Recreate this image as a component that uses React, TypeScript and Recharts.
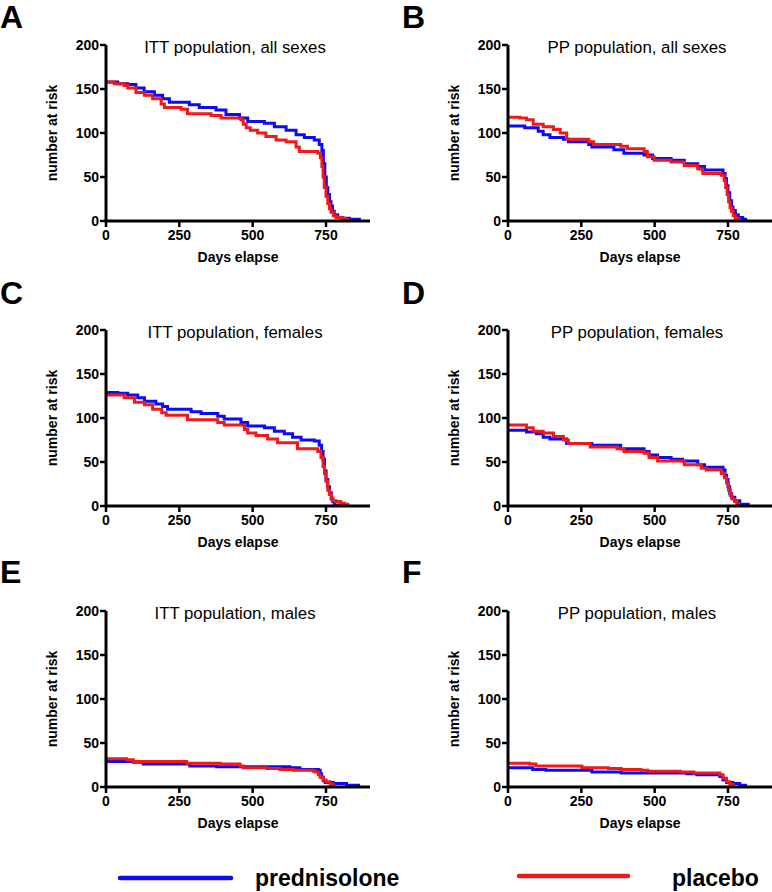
import React from 'react';
import { LineChart, Line, XAxis, YAxis } from 'recharts';

// [day, number at risk]
const ittAllPred = [[0,158],[40,156],[74,155],[102,151],[130,147],[165,143],[193,139],[216,135],[284,132],[318,129],[375,126],[409,121],[455,117],[483,113],[540,111],[574,107],[614,103],[648,98],[676,95],[710,92],[727,87],[736,80],[741,65],[746,50],[751,38],[756,30],[762,22],[767,17],[772,11],[778,7],[790,4],[805,3],[830,2],[869,2]];
const ittAllPlac = [[0,158],[28,156],[62,154],[74,151],[102,146],[131,143],[159,139],[188,133],[199,129],[256,127],[278,122],[358,120],[392,117],[460,115],[468,110],[478,106],[492,103],[517,100],[545,96],[580,92],[614,90],[648,84],[659,79],[722,77],[731,72],[736,62],[740,50],[744,38],[750,28],[756,20],[762,14],[767,10],[775,6],[784,4],[800,3],[813,2],[824,1]];
const ppAllPred = [[0,108],[57,106],[103,102],[120,98],[143,95],[189,93],[206,90],[275,87],[286,84],[361,81],[395,77],[464,75],[493,71],[556,69],[601,65],[647,62],[670,58],[733,54],[740,48],[745,40],[750,32],[756,23],[762,16],[767,12],[775,7],[785,4],[800,2],[815,2]];
const ppAllPlac = [[0,118],[40,117],[63,115],[86,110],[120,107],[155,104],[178,100],[200,93],[275,90],[292,87],[384,85],[407,82],[464,79],[475,73],[498,69],[556,67],[601,63],[647,59],[664,54],[727,52],[737,46],[742,38],[747,30],[752,22],[757,15],[762,11],[768,6],[775,3],[785,0]];
const ittFemPred = [[0,129],[40,128],[74,126],[108,123],[131,119],[170,116],[193,113],[210,110],[290,107],[324,105],[381,102],[403,99],[460,95],[483,91],[540,89],[574,85],[608,82],[636,78],[665,75],[710,74],[727,69],[735,62],[740,53],[745,40],[750,30],[756,22],[762,15],[768,8],[773,5],[778,1],[807,1]];
const ittFemPlac = [[0,126],[62,123],[97,118],[131,115],[159,110],[190,106],[205,103],[278,98],[381,95],[403,92],[472,87],[483,83],[511,80],[551,76],[585,72],[653,65],[722,62],[733,55],[740,45],[745,37],[750,28],[756,18],[762,13],[768,9],[773,6],[784,5],[800,3],[813,2],[824,1]];
const ppFemPred = [[0,86],[63,84],[97,82],[120,78],[143,76],[200,71],[286,69],[384,65],[464,62],[481,58],[510,55],[556,53],[595,51],[647,47],[670,44],[733,41],[740,35],[745,30],[750,22],[756,14],[762,10],[773,6],[790,2],[819,1]];
const ppFemPlac = [[0,92],[63,89],[86,85],[120,83],[155,79],[189,75],[206,71],[280,67],[372,65],[395,62],[464,60],[481,55],[510,51],[601,47],[659,43],[676,41],[727,37],[738,32],[745,26],[752,18],[758,12],[764,8],[773,5],[780,2],[787,0]];
const ittMalePred = [[0,29],[93,28],[127,26],[286,24],[377,23],[627,22],[661,20],[724,19],[730,15],[735,11],[741,7],[747,5],[775,4],[820,2],[866,2]];
const ittMalePlac = [[0,32],[70,31],[93,29],[275,27],[389,26],[457,24],[468,22],[548,21],[593,20],[639,19],[707,18],[713,17],[724,14],[730,11],[740,8],[750,6],[764,3],[775,1]];
const ppMalePred = [[0,22],[84,20],[129,19],[286,17],[386,16],[610,15],[644,14],[722,12],[733,8],[745,5],[767,4],[790,2],[815,2]];
const ppMalePlac = [[0,27],[73,26],[95,24],[252,22],[342,21],[386,20],[453,19],[476,18],[588,17],[633,16],[722,14],[733,10],[745,6],[756,3],[767,1]];

const xTicks = [0, 250, 500, 750];
const yTicks = [0, 50, 100, 150, 200];
const seriesNames = ['prednisolone', 'placebo'];

const BLUE = '#0b0bf5';
const RED = '#f01818';
const FONT = '"Liberation Sans", Arial, Helvetica, sans-serif';

const toRows = (pts: number[][]) => pts.map(([day, n]) => ({ day, n }));

const panels = [
  { letter: 'A', title: 'ITT population, all sexes', pred: ittAllPred, plac: ittAllPlac, col: 0, row: 0 },
  { letter: 'B', title: 'PP population, all sexes', pred: ppAllPred, plac: ppAllPlac, col: 1, row: 0 },
  { letter: 'C', title: 'ITT population, females', pred: ittFemPred, plac: ittFemPlac, col: 0, row: 1 },
  { letter: 'D', title: 'PP population, females', pred: ppFemPred, plac: ppFemPlac, col: 1, row: 1 },
  { letter: 'E', title: 'ITT population, males', pred: ittMalePred, plac: ittMalePlac, col: 0, row: 2 },
  { letter: 'F', title: 'PP population, males', pred: ppMalePred, plac: ppMalePlac, col: 1, row: 2 },
];

const rowTops = [0, 285, 566];
const letterBaselines = [28, 304, 583];
const colLefts = [0, 390];
const yAxisWidths = [106, 118];

const tickStyle = { fill: '#000', fontSize: 14, fontWeight: 'bold', fontFamily: FONT };
const axisLine = { stroke: '#000', strokeWidth: 3 };
const tickLine = { stroke: '#000', strokeWidth: 2.5 };

function Panel({ p }: { p: (typeof panels)[number] }) {
  const yw = yAxisWidths[p.col];
  return (
    <div style={{ position: 'absolute', left: colLefts[p.col], top: rowTops[p.row] }}>
      <LineChart width={382} height={275} margin={{ top: 45, right: p.col === 0 ? 12 : 0, bottom: 0, left: 0 }}>
        <XAxis
          type="number"
          dataKey="day"
          domain={[0, 900]}
          ticks={xTicks}
          allowDataOverflow
          height={54}
          tickSize={6}
          tickMargin={3}
          axisLine={axisLine}
          tickLine={tickLine}
          tick={tickStyle}
          label={{ value: 'Days elapse', position: 'insideBottom', offset: 13, style: { fill: '#000', fontSize: 14, fontWeight: 'bold', fontFamily: FONT } }}
        />
        <YAxis
          type="number"
          domain={[0, 200]}
          ticks={yTicks}
          width={yw}
          tickSize={6}
          tickMargin={1}
          axisLine={axisLine}
          tickLine={tickLine}
          tick={tickStyle}
          label={{ value: 'number at risk', angle: -90, position: 'insideLeft', offset: yw - 54, style: { textAnchor: 'middle', fill: '#000', fontSize: 14, fontWeight: 'bold', fontFamily: FONT } }}
        />
        <Line data={toRows(p.pred)} dataKey="n" name={seriesNames[0]} type="stepAfter" stroke={BLUE} strokeWidth={3} dot={false} isAnimationActive={false} />
        <Line data={toRows(p.plac)} dataKey="n" name={seriesNames[1]} type="stepAfter" stroke={RED} strokeWidth={3} dot={false} isAnimationActive={false} />
      </LineChart>
    </div>
  );
}

export default function App() {
  return (
    <div style={{ position: 'absolute', left: 0, top: 0, width: 772, height: 892, overflow: 'hidden', background: '#fff', fontFamily: FONT }}>
      {panels.map((p) => (
        <Panel key={p.letter} p={p} />
      ))}
      <svg width={772} height={892} style={{ position: 'absolute', left: 0, top: 0, pointerEvents: 'none' }}>
        {panels.map((p) => {
          const plotLeft = colLefts[p.col] + yAxisWidths[p.col];
          return (
            <g key={p.letter}>
              <text x={p.col === 0 ? 0 : 402} y={letterBaselines[p.row]} fontSize={32} fontWeight="bold" fontFamily={FONT} fill="#000">
                {p.letter}
              </text>
              <text x={plotLeft + 129} y={rowTops[p.row] + 53} fontSize={16.8} fontFamily={FONT} textAnchor="middle" fill="#000">
                {p.title}
              </text>
            </g>
          );
        })}
        <line x1={120} y1={878} x2={231} y2={878} stroke={BLUE} strokeWidth={4.5} strokeLinecap="round" />
        <text x={255} y={886} fontSize={23} fontWeight="bold" fontFamily={FONT} fill="#000">{seriesNames[0]}</text>
        <line x1={519} y1={876} x2={628} y2={876} stroke={RED} strokeWidth={4.5} strokeLinecap="round" />
        <text x={672} y={886} fontSize={23} fontWeight="bold" fontFamily={FONT} fill="#000">{seriesNames[1]}</text>
      </svg>
    </div>
  );
}
